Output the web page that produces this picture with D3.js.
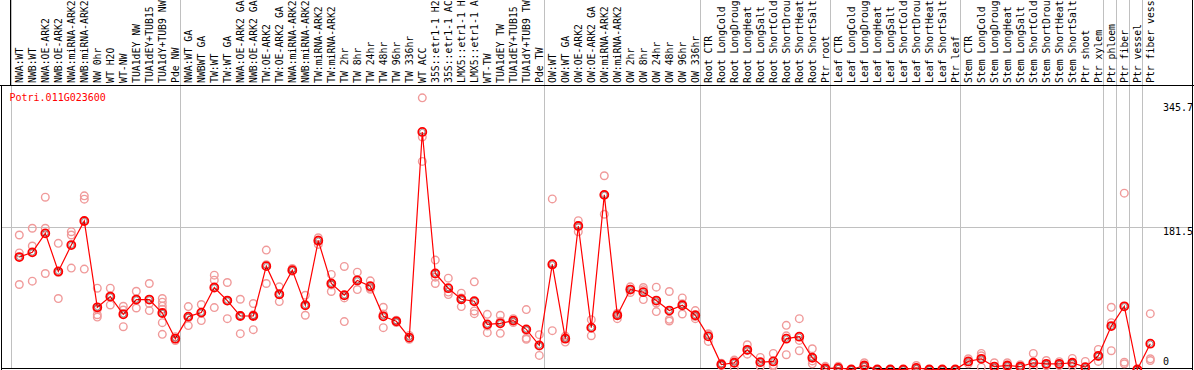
<!DOCTYPE html>
<html>
<head>
<meta charset="utf-8">
<script src="https://cdn.jsdelivr.net/npm/d3@7"></script>
<style>
  body { margin: 0; background: #fff; }
  svg { display: block; }
  text { font-family: "DejaVu Sans Mono", monospace; font-size: 10px; }
  .collabel { font-size: 9.8px; }
</style>
</head>
<body>
<svg width="1194" height="370"></svg>
<script>
const geneName = "Potri.011G023600";

// column labels as printed (cut to 14 characters)
const categories = [
  "NWA:WT", "NWB:WT", "NWA:OE-ARK2", "NWB:OE-ARK2", "NWA:miRNA-ARK2", "NWB:miRNA-ARK2",
  "NW 0hr", "WT H2O", "WT-NW", "TUA1dEY NW", "TUA1dEY+TUB15", "TUA1dY+TUB9 NW", "Pde NW",
  "NWA:WT GA", "NWBWT GA", "TW:WT", "TW:WT GA", "NWA:OE-ARK2 GA", "NWB:OE-ARK2 GA",
  "TW:OE-ARK2", "TW:OE-ARK2 GA", "NWA:miRNA-ARK2", "NWB:miRNA-ARK2", "TW:miRNA-ARK2",
  "TW:miRNA-ARK2", "TW 2hr", "TW 8hr", "TW 24hr", "TW 48hr", "TW 96hr", "TW 336hr",
  "WT ACC", "35S::etr1-1 H2", "35S::etr1-1 AC", "LMX5::etr1-1 H", "LMX5::etr1-1 A",
  "WT-TW", "TUA1dEY TW", "TUA1dEY+TUB15", "TUA1dY+TUB9 TW", "Pde TW",
  "OW:WT", "OW:WT GA", "OW:OE-ARK2", "OW:OE-ARK2 GA", "OW:miRNA-ARK2", "OW:miRNA-ARK2",
  "OW 2hr", "OW 8hr", "OW 24hr", "OW 48hr", "OW 96hr", "OW 336hr",
  "Root CTR", "Root LongCold", "Root LongDroug", "Root LongHeat", "Root LongSalt",
  "Root ShortCold", "Root ShortDrou", "Root ShortHeat", "Root ShortSalt", "Ptr root",
  "Leaf CTR", "Leaf LongCold", "Leaf LongDroug", "Leaf LongHeat", "Leaf LongSalt",
  "Leaf ShortCold", "Leaf ShortDrou", "Leaf ShortHeat", "Leaf ShortSalt", "Ptr leaf",
  "Stem CTR", "Stem LongCold", "Stem LongDroug", "Stem LongHeat", "Stem LongSalt",
  "Stem ShortCold", "Stem ShortDrou", "Stem ShortHeat", "Stem ShortSalt", "Ptr shoot",
  "Ptr xylem", "Ptr phloem", "Ptr fiber", "Ptr vessel", "Ptr fiber vess"
];

// first column of each sample group (gets a separator line)
const groupStarts = [0, 13, 41, 53, 63, 73, 84, 85, 86, 87];

const meanValues = [
  143.7, 149.7, 174, 125.3, 159, 189.8, 79.5, 93.2, 70.5, 89.4, 89.4, 72.2, 39.4,
  67.6, 72.7, 104.8, 88.1, 68.4, 68.4, 132.1, 96.2, 127, 82.1, 164.6, 109.9, 94.9, 113.8,
  106.5, 68, 61.6, 40.7, 303.6, 122.7, 103.9, 89.8, 87.2, 57.7, 59, 62.5, 51.3, 30.8,
  134.3, 39.4, 183.4, 53.5, 223.2, 69.3, 102.2, 98.8, 88.1, 75.3, 82.1, 69.3,
  42.3, 6.4, 8.6, 25.2, 9.4, 10.3, 39.4, 41.9, 15, 1.3,
  2.1, 0, 5.1, 0, 0, 0, 2.1, 0, 0, 0,
  10.3, 13.7, 3.8, 5.1, 3.8, 8.6, 7.3, 7.3, 8.6, 3, 17.5,
  55.5, 80.8, 0, 33
];

const replicateValues = [
  [171.9, 149, 108.6], [180.5, 157.8, 112.9], [220.2, 180.5, 122.7], [161.2, 124, 90.7],
  [176.1, 171.9, 129.6], [221.9, 217.7, 128.3], [103.9, 77, 70, 67], [103.9, 93, 82.5],
  [80.8, 76, 54.7], [100, 89.6, 78.6], [109.9, 84.3, 75.3], [90.7, 86, 81, 77, 59.9, 44.9],
  [42, 39.4, 37],
  [80.4, 66, 56.1], [83, 72.7, 62.5], [120.6, 114.2, 79.1], [111.2, 88, 65], [89.8, 69, 45.8],
  [84.3, 70, 50.9], [152.6, 134, 109.9], [105.6, 96, 86.8], [129.2, 126, 125.7], [94.9, 82, 69.3],
  [168.4, 165.5, 159.9], [121.5, 108, 99.7], [131.7, 91.5, 61.2], [124.4, 115, 102.2],
  [113.3, 104, 102.6], [79.5, 71, 53.5], [63, 61.6, 60], [43.6, 40, 38.5], [347.2, 297.2, 265.9],
  [139.8, 118, 109.9], [116.7, 99, 95.8], [97.5, 91.5, 80.4], [112, 74.8, 71.4], [70.5, 55.6, 47.1],
  [69.3, 61.6, 46.2], [65, 62.5, 60], [76.6, 50, 40, 38.6], [44.5, 30, 18],
  [218, 135, 49.6], [42.7, 40.5, 35], [190.2, 184, 176.1], [63.7, 53.6, 43.2], [247.6, 223, 198.4],
  [72, 70, 65], [105.6, 102.6, 98.4], [104.8, 102, 89.4], [105.2, 85, 74], [99.7, 64.1, 62],
  [91.5, 84, 70.9], [75.3, 67.6, 65],
  [45.8, 45, 35.9], [8, 6.4, 5], [12, 11.5, 2.1], [31.6, 24.5, 19.6], [15.4, 9, 3.8],
  [20.5, 6, 4.2], [56.4, 43, 18.9], [65, 37.2, 24], [26.5, 11, 7.3], [4, 0, 0],
  [4.2, 1.5, 0.6], [0, 0, 0], [8.6, 4, 2.7], [0, 0, 0], [0, 0, 0], [0, 0, 0], [5.1, 1, 0.2],
  [0, 0, 0], [0, 0, 0], [0, 0, 0],
  [13.7, 10, 7.3], [20.5, 17.6, 3], [8.6, 1.5, 1.3], [8.6, 4.7, 2], [6, 3.5, 2], [20.5, 3, 2.3],
  [11.5, 5.5, 4.9], [10, 7, 5], [14.1, 7.7, 4], [10.3, 0, 0], [25.7, 16.5, 10.3],
  [79.5, 59.9, 24], [225.4, 9.4, 7.3], [0, 0, 0], [71.4, 13.7, 11.5]
];

const yTicks = [0, 181.5, 345.7];

var svg = d3.select("svg");
const width = +svg.attr("width");
const height = +svg.attr("height");

const headerBottom = 85;
const plotBottom = 369;

var x = d3.scaleBand()
  .domain(d3.range(categories.length))
  .range([11, 11 + 13 * categories.length]);

var y = d3.scaleLinear()
  .domain([0, 345.7])
  .range([369.5, 99]);

function cx(i) {
  return x(i) + 8.3;
}

svg.append("rect")
  .attr("width", width)
  .attr("height", height)
  .attr("fill", "#fff");

// grid
svg.append("line")
  .attr("x1", 1).attr("x2", 1192)
  .attr("y1", Math.round(y(181.5)) + 0.5)
  .attr("y2", Math.round(y(181.5)) + 0.5)
  .attr("stroke", "#c0c0c0");

svg.append("g")
  .selectAll("line")
  .data(groupStarts)
  .join("line")
  .attr("x1", (d) => Math.round(x(d)) + 0.5)
  .attr("x2", (d) => Math.round(x(d)) + 0.5)
  .attr("y1", 0)
  .attr("y2", plotBottom)
  .attr("stroke", "#c0c0c0");

// frames
var frame = svg.append("g").attr("stroke", "#000").attr("fill", "none");
frame.append("line").attr("x1", 10.5).attr("x2", 10.5).attr("y1", 0).attr("y2", headerBottom);
frame.append("line").attr("x1", 0).attr("x2", width).attr("y1", headerBottom + 0.5).attr("y2", headerBottom + 0.5);
frame.append("line").attr("x1", 1.5).attr("x2", 1.5).attr("y1", headerBottom).attr("y2", plotBottom + 1);
frame.append("line").attr("x1", 1192.5).attr("x2", 1192.5).attr("y1", 0).attr("y2", plotBottom + 1);
frame.append("line").attr("x1", 1).attr("x2", 1193).attr("y1", plotBottom - 0.5).attr("y2", plotBottom - 0.5);

// column labels
svg.append("g")
  .selectAll("text")
  .data(categories)
  .join("text")
  .attr("class", "collabel")
  .attr("transform", (d, i) => "translate(" + (cx(i) + 3.2) + "," + 83 + ") rotate(-90)")
  .attr("fill", "#000")
  .text((d) => d);

// value labels on the right
svg.append("g")
  .selectAll("text")
  .data(yTicks)
  .join("text")
  .attr("x", 1163)
  .attr("y", (d) => Math.max(111, Math.min(365, y(d) + 8)))
  .attr("fill", "#000")
  .text((d) => d);

svg.append("text")
  .attr("x", 9.5)
  .attr("y", 101)
  .attr("fill", "#ff0000")
  .text(geneName);

// replicate points
var reps = [];
replicateValues.forEach(function (vals, i) {
  vals.forEach(function (v) {
    reps.push({ i: i, v: v });
  });
});

svg.append("g")
  .selectAll("circle")
  .data(reps)
  .join("circle")
  .attr("cx", (d) => cx(d.i))
  .attr("cy", (d) => y(d.v))
  .attr("r", 3.8)
  .attr("fill", "none")
  .attr("stroke", "#f09a9a")
  .attr("stroke-width", 1.4);

// mean line
var line = d3.line()
  .x((d, i) => cx(i))
  .y((d) => y(d));

svg.append("path")
  .datum(meanValues)
  .attr("d", line)
  .attr("fill", "none")
  .attr("stroke", "#ff0000")
  .attr("stroke-width", 1.2);

var means = svg.append("g")
  .selectAll("g")
  .data(meanValues)
  .join("g")
  .attr("transform", (d, i) => "translate(" + cx(i) + "," + y(d) + ")");

means.append("circle")
  .attr("r", 4)
  .attr("fill", "none")
  .attr("stroke", "#ff0000")
  .attr("stroke-width", 1.8);

means.append("circle")
  .attr("r", 2.6)
  .attr("fill", "none")
  .attr("stroke", "#000")
  .attr("stroke-opacity", 0.55)
  .attr("stroke-width", 0.7);
</script>
</body>
</html>
